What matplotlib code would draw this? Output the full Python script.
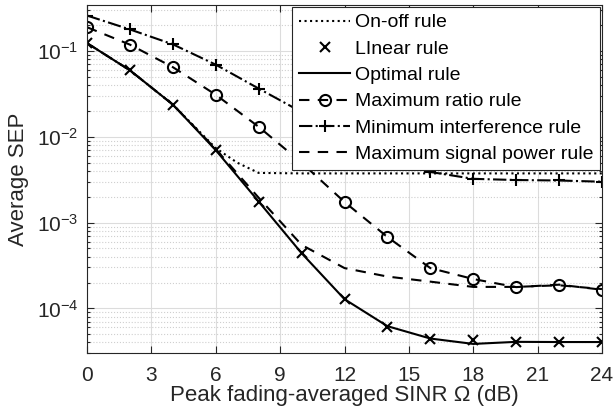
import numpy as np
import matplotlib
matplotlib.use('Agg')
import matplotlib.pyplot as plt
from matplotlib.ticker import LogLocator, NullFormatter, MultipleLocator

plt.rcParams['font.family'] = ['Liberation Sans', 'DejaVu Sans']
plt.rcParams['mathtext.fontset'] = 'custom'
plt.rcParams['mathtext.rm'] = 'Liberation Sans'
plt.rcParams['mathtext.it'] = 'Liberation Sans:italic'

# Dữ liệu
snr = [0, 2, 4, 6, 8, 10, 12, 14, 16, 18, 20, 22, 24]
onoff_x = [0, 2, 4, 6, 7, 8, 10, 12, 14, 16, 18, 20, 22, 24]
onoff = [0.124, 0.0597, 0.0238, 0.0074, 0.0050, 0.0038, 0.00375, 0.00375, 0.00375,
         0.00375, 0.00375, 0.00375, 0.00375, 0.00375]
linear = [0.124, 0.0597, 0.0238, 0.0070, 0.00176, 4.4e-4, 1.28e-4, 6.1e-5, 4.45e-5,
          4.3e-5, 4.07e-5, 4.05e-5, 4.05e-5]
optimal = [0.124, 0.0597, 0.0238, 0.0070, 0.00176, 4.4e-4, 1.28e-4, 6.2e-5, 4.45e-5,
           3.85e-5, 4.07e-5, 4.05e-5, 4.05e-5]
max_ratio = [0.19, 0.119, 0.065, 0.031, 0.0131, 0.0050, 1.74e-3, 6.8e-4, 2.95e-4,
             2.2e-4, 1.77e-4, 1.89e-4, 1.65e-4]
min_interf = [0.26, 0.179, 0.12, 0.0695, 0.0366, 0.0195, 0.0105, 0.0058, 0.0039,
              0.00324, 0.00314, 0.0031, 0.0030]
max_signal = [0.124, 0.0597, 0.0238, 0.0072, 0.00195, 5.5e-4, 2.95e-4, 2.35e-4, 2.05e-4,
              1.78e-4, 1.78e-4, 1.86e-4, 1.68e-4]

fig = plt.figure(figsize=(6.13, 4.18), dpi=100)
ax = fig.add_axes([0.142, 0.155, 0.840, 0.833])

k = 'black'
ax.semilogy(onoff_x, onoff, linestyle=':', color=k, lw=1.5, label='On-off rule')
ax.semilogy(snr, linear, linestyle='none', marker='x', color=k, ms=7, mew=1.5, label='LInear rule')
ax.semilogy(snr, optimal, linestyle='-', color=k, lw=1.5, label='Optimal rule')
ax.semilogy(snr, max_ratio, linestyle='--', marker='o', mfc='none', color=k, ms=8, mew=1.5,
            lw=1.5, dashes=(5, 4), label='Maximum ratio rule')
ax.semilogy(snr, min_interf, linestyle='-.', marker='+', color=k, ms=9, mew=1.5, lw=1.5,
            label='Minimum interference rule')
ax.semilogy(snr, max_signal, linestyle='--', color=k, lw=1.5, dashes=(5, 4),
            label='Maximum signal power rule')

ax.set_xlim(0, 24)
ax.set_ylim(3e-5, 0.345)
ax.xaxis.set_major_locator(MultipleLocator(3))
ax.yaxis.set_major_locator(LogLocator(base=10, numticks=10))
ax.yaxis.set_minor_locator(LogLocator(base=10, subs=np.arange(2, 10), numticks=20))
ax.yaxis.set_minor_formatter(NullFormatter())

ax.grid(True, which='major', color='#dcdcdc', linestyle='-', lw=0.8)
ax.grid(True, which='minor', axis='y', color='#cfcfcf', linestyle=':', lw=0.8)
ax.set_axisbelow(True)

ax.tick_params(which='both', direction='in', top=True, right=True, colors='#262626',
               labelsize=15, width=0.8)
ax.tick_params(which='major', length=5)
ax.tick_params(which='minor', length=2.5)
ax.tick_params(axis='x', pad=9)
ax.tick_params(axis='y', pad=6)
for s in ax.spines.values():
    s.set_color('#262626')
    s.set_linewidth(0.8)

ax.set_xlabel('Peak fading-averaged SINR Ω (dB)', fontsize=16, color='#262626', labelpad=0)
ax.set_ylabel('Average SEP', fontsize=16, color='#262626', labelpad=6)

leg = ax.legend(loc='upper right', fontsize=14, frameon=True, fancybox=False, framealpha=1,
                edgecolor='#262626', borderaxespad=0.1, handlelength=2.6, handletextpad=0.25,
                labelspacing=0.45, borderpad=0.35)
leg.get_frame().set_linewidth(0.8)

plt.savefig('out.png', dpi=100)
